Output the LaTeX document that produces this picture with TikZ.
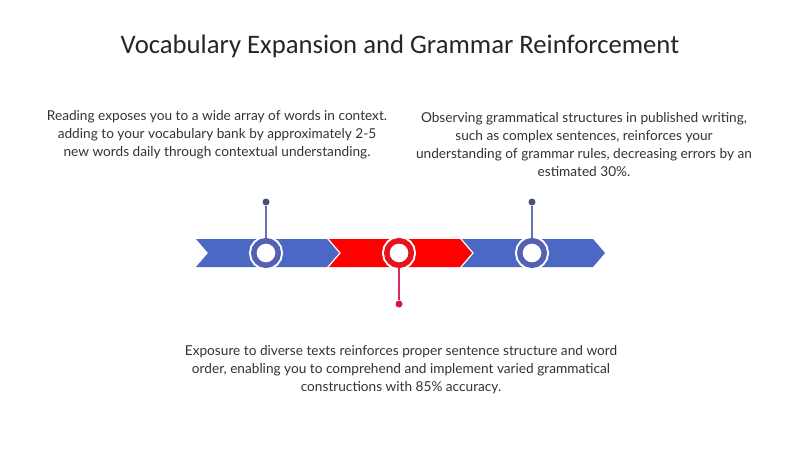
\documentclass[tikz,border=0pt]{standalone}
\usepackage{fontspec}
\setmainfont{Lato}
\newfontfamily\titlefont{Carlito}
\definecolor{chevblue}{HTML}{4A68C4}
\definecolor{chevred}{HTML}{FF0000}
\definecolor{ringblue}{HTML}{5461B2}
\definecolor{ringred}{HTML}{E8111E}
\definecolor{stemblue}{HTML}{6A72B6}
\definecolor{stemred}{HTML}{D82A5C}
\definecolor{dotblue}{HTML}{4B527A}
\definecolor{dotred}{HTML}{E0123C}
\definecolor{txt}{HTML}{333333}
\tikzset{
  chev/.style={draw=none},
  ring/.style={circle, draw=#1, line width=5.5pt, fill=white, minimum size=24.5pt, inner sep=0pt,
    preaction={draw=white, line width=9.5pt}},
  tipdot/.style={circle, fill=#1, minimum size=7pt, inner sep=0pt},
  stem/.style={draw=#1, line width=1.2pt},
  body/.style={text=txt, font=\fontsize{13.65}{18}\selectfont, align=center},
}
\begin{document}
\begin{tikzpicture}[x=1pt,y=-1pt]
\useasboundingbox[fill=white] (0,0) rectangle (800,449);
\node[text=black!85, font=\titlefont\fontsize{26.7}{30}\selectfont] (title) at (400,46) {Vocabulary Expansion and Grammar Reinforcement};
% chevrons
\fill[chevblue] (196,239) -- (327,239) -- (339,253) -- (327,267) -- (196,267) -- (208,253) -- cycle;
\fill[chevred] (329,239) -- (460,239) -- (472,253) -- (460,267) -- (329,267) -- (341,253) -- cycle;
\fill[chevblue] (462,239) -- (593,239) -- (605,253) -- (593,267) -- (462,267) -- (474,253) -- cycle;
% rings
\node[ring=ringblue] (c1) at (266,253) {};
\node[ring=ringred] (c2) at (399,253) {};
\node[ring=ringblue] (c3) at (532,253) {};
% dots
\node[tipdot=dotblue] (d1) at (266,202) {};
\node[tipdot=dotred] (d2) at (399,304) {};
\node[tipdot=dotblue] (d3) at (532,202) {};
\draw[stem=stemblue] (c1.north) -- (d1);
\draw[stem=stemred] (c2.south) -- (d2);
\draw[stem=stemblue] (c3.north) -- (d3);
% texts
\node[body] (t1) at (217,134.5) {Reading exposes you to a wide array of words in context.\\adding to your vocabulary bank by approximately 2-5\\new words daily through contextual understanding.};
\node[body] (t3) at (584,145) {Observing grammatical structures in published writing,\\such as complex sentences, reinforces your\\understanding of grammar rules, decreasing errors by an\\estimated 30\%.};
\node[body] (t2) at (401,370) {Exposure to diverse texts reinforces proper sentence structure and word\\order, enabling you to comprehend and implement varied grammatical\\constructions with 85\% accuracy.};
\end{tikzpicture}
\end{document}
